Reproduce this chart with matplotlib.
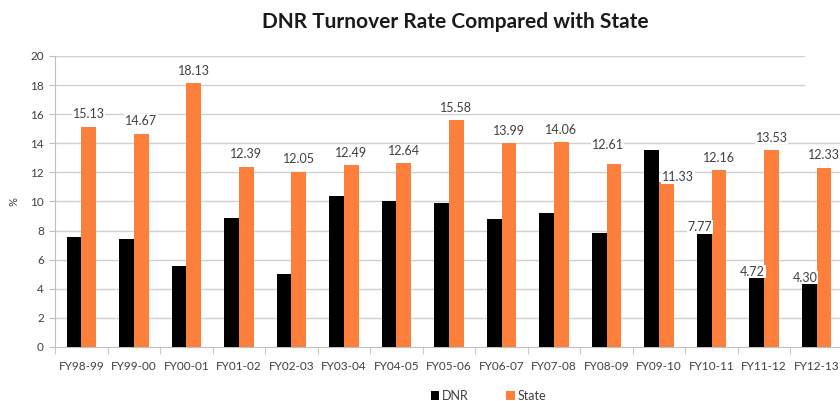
import numpy as np
import matplotlib
matplotlib.use("Agg")
import matplotlib.pyplot as plt

years = ["FY98-99", "FY99-00", "FY00-01", "FY01-02", "FY02-03", "FY03-04", "FY04-05",
         "FY05-06", "FY06-07", "FY07-08", "FY08-09", "FY09-10", "FY10-11", "FY11-12", "FY12-13"]
dnr = [7.54, 7.45, 5.57, 8.87, 5.00, 10.40, 10.00, 9.87, 8.82, 9.23, 7.86, 13.54, 7.77, 4.72, 4.30]
state = [15.13, 14.67, 18.13, 12.39, 12.05, 12.49, 12.64, 15.58, 13.99, 14.06, 12.61, 11.33,
         12.16, 13.53, 12.33]
# only these DNR bars carry a value label
dnr_labelled = ["FY10-11", "FY11-12", "FY12-13"]

plt.rcParams['font.family'] = ['Lato', 'DejaVu Sans']

fig = plt.figure(figsize=(8.4, 4.01), dpi=100)
ax = fig.add_axes([0.0655, 0.1347, 0.938, 0.7257])

x = np.arange(len(years))
w = 0.28
orange = "#fd7f3c"
ax.bar(x - w / 2, dnr, w, color="black", label="DNR", zorder=3)
ax.bar(x + w / 2, state, w, color=orange, label="State", zorder=3)

ax.set_xlim(-0.5, len(years) - 0.5)
ax.set_ylim(0, 20)
ax.set_yticks(np.arange(0, 21, 2))

# horizontal gridlines; the top two stop short of the right edge
for yv in np.arange(2, 21, 2):
    xmax = 0.95 if yv >= 18 else 1.0
    ax.axhline(yv, xmin=0, xmax=xmax, color="#d0d0d0", lw=1, zorder=1)

label_kw = dict(ha="center", va="bottom", fontsize=9, color="#404040", zorder=4,
                bbox=dict(facecolor="white", edgecolor="none", pad=0.5))
for i, v in enumerate(state):
    if years[i] == "FY09-10":
        ax.text(x[i] + w / 2 + 0.22, v - 0.05, f"{v:.2f}", **label_kw)
    elif years[i] == "FY08-09":
        ax.text(x[i] + w / 2 - 0.12, v + 0.85, f"{v:.2f}", **label_kw)
    else:
        ax.text(x[i] + w / 2, v + 0.45, f"{v:.2f}", **label_kw)
for i, v in enumerate(dnr):
    if years[i] in dnr_labelled:
        ax.text(x[i] - w / 2 - 0.08, v + 0.05, f"{v:.2f}", **label_kw)

ax.set_xticks(x)
ax.set_xticklabels(years)
ax.set_xticks(np.arange(-0.5, len(years), 1), minor=True)
ax.tick_params(axis="x", which="major", length=0, pad=10, labelsize=8.5, labelcolor="#404040")
ax.tick_params(axis="x", which="minor", length=5, color="#bfbfbf", direction="out")
ax.tick_params(axis="y", length=4, color="#bfbfbf", labelsize=8.5, labelcolor="#404040", pad=4)

for side in ["top", "right"]:
    ax.spines[side].set_visible(False)
for side in ["left", "bottom"]:
    ax.spines[side].set_color("#bfbfbf")

ax.set_ylabel("%", fontsize=8, color="#404040", labelpad=8)

fig.text(0.542, 0.945, "DNR Turnover Rate Compared with State", ha="center", va="center",
         fontsize=15, fontweight="bold", color="#1a1a1a")

ax.legend(loc="upper center", bbox_to_anchor=(0.55, -0.108), ncol=2, frameon=False,
          fontsize=9, handlelength=0.7, handleheight=0.7, columnspacing=3.0,
          handletextpad=0.2, labelcolor="#404040")

fig.savefig("out.png", dpi=100)
